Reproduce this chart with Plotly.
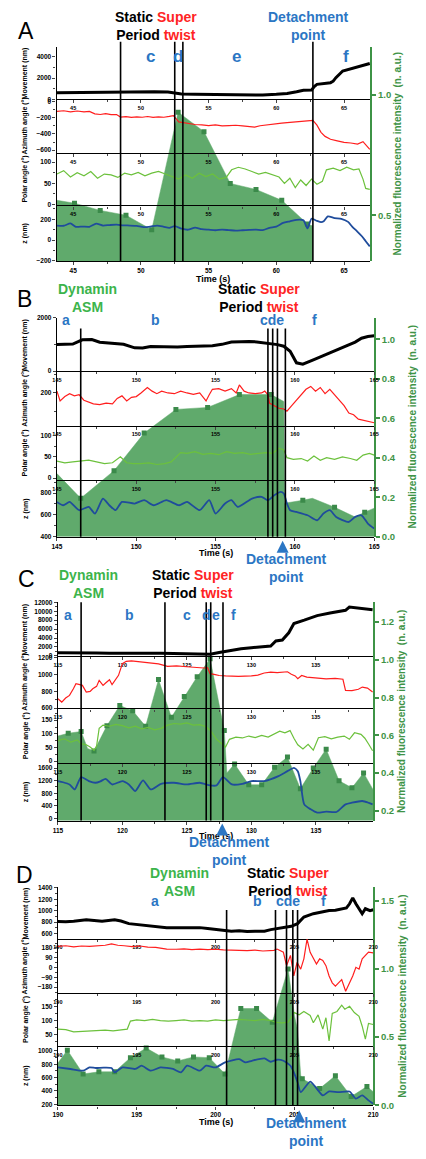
import plotly.graph_objects as go

W, H = 426, 1159


def px(x):
    return x / W


def py(y):
    return 1 - y / H


# ======================= DATA =======================
# ---- Panel A (time s, value) ----
A_movement = [(43.8, 620), (45, 640), (46, 660), (47, 630), (48, 640), (49, 640), (50, 660), (51, 700),
              (52, 680), (52.5, 560), (53, 500), (54, 470), (55, 450), (56, 420), (57, 390), (58, 390),
              (59, 400), (60, 460), (60.8, 540), (61.5, 700), (62.0, 850), (62.6, 860), (62.8, 1200),
              (63.0, 1400), (63.5, 1500), (64.0, 1560), (64.2, 1700), (64.4, 2030), (64.9, 2660),
              (65.4, 2820), (65.9, 2980), (66.3, 3140), (66.9, 3360)]
A_azimuth = [(43.8, -120), (44.3, -112), (44.8, -125), (45.3, -115), (45.8, -125), (46.2, -120), (46.6, -150),
             (47.0, -158), (47.4, -148), (47.8, -160), (48.2, -158), (48.5, -190), (48.9, -185), (49.3, -195),
             (49.7, -188), (50.1, -192), (50.5, -183), (50.9, -195), (51.3, -188), (51.7, -192), (52.1, -182),
             (52.4, -172), (52.8, -250), (53.2, -262), (53.6, -268), (54.0, -282), (54.5, -288), (55.0, -295),
             (55.5, -288), (56.0, -300), (56.5, -296), (57.0, -292), (57.5, -300), (58.0, -305), (58.4, -315),
             (58.8, -298), (59.2, -288), (59.6, -285), (60.0, -275), (60.4, -265), (60.8, -258), (61.2, -252),
             (61.6, -240), (62.0, -238), (62.4, -228), (62.7, -232), (63.0, -290), (63.3, -380), (63.6, -430),
             (64.0, -465), (64.5, -485), (65.0, -505), (65.5, -512), (66.0, -525), (66.4, -495), (66.6, -530),
             (66.9, -590)]
A_polar = [(43.8, 72), (44.3, 80), (44.8, 65), (45.3, 75), (45.8, 68), (46.3, 78), (46.8, 62), (47.3, 72),
           (47.8, 70), (48.3, 64), (48.8, 74), (49.3, 70), (49.8, 76), (50.3, 68), (50.8, 74), (51.3, 78),
           (51.8, 72), (52.3, 66), (52.8, 60), (53.3, 70), (53.8, 62), (54.3, 74), (54.8, 66), (55.3, 72),
           (55.8, 60), (56.3, 64), (56.7, 82), (57.2, 88), (57.7, 84), (58.2, 78), (58.7, 72), (59.2, 76),
           (59.7, 70), (60.2, 65), (60.6, 50), (61.0, 62), (61.4, 40), (61.8, 58), (62.2, 45), (62.6, 60),
           (63.0, 48), (63.4, 55), (63.7, 82), (64.2, 86), (64.7, 80), (65.2, 88), (65.7, 82), (66.1, 84),
           (66.4, 60), (66.6, 38), (66.9, 36)]
A_z = [(43.8, 140), (44.3, 138), (44.8, 160), (45.2, 128), (45.7, 130), (46.2, 128), (46.7, 158), (47.2, 140),
       (47.7, 145), (48.2, 148), (48.7, 142), (49.2, 140), (49.7, 136), (50.2, 125), (50.7, 130), (51.2, 140),
       (51.7, 128), (52.1, 118), (52.5, 135), (53.0, 110), (53.5, 100), (54.0, 120), (54.5, 105), (55.0, 100),
       (55.5, 95), (56.0, 100), (56.5, 96), (57.0, 92), (57.5, 95), (58.0, 98), (58.5, 100), (59.0, 96),
       (59.5, 118), (60.0, 130), (60.5, 165), (61.0, 180), (61.5, 195), (62.0, 190), (62.3, 112), (62.6, 205),
       (63.0, 185), (63.3, 172), (63.5, 180), (63.8, 228), (64.3, 212), (64.8, 205), (65.3, 175), (65.6, 130),
       (66.0, 80), (66.3, 40), (66.6, -10), (66.9, -60)]
A_fluor = [(43.8, 0.562), (45.1, 0.55), (47.0, 0.52), (48.9, 0.50), (50.8, 0.44), (52.75, 0.928),
           (54.66, 0.847), (56.6, 0.632), (58.5, 0.607), (60.4, 0.562), (62.3, 0.464), (62.7, 0.455)]
A_fluor_marks = [(45.1, 0.55), (47.0, 0.52), (48.9, 0.50), (50.8, 0.44), (52.75, 0.928), (54.66, 0.847),
                 (56.6, 0.632), (58.5, 0.607), (60.4, 0.562), (62.3, 0.464)]
A_events = [48.5, 52.5, 53.1, 62.7]

# ---- Panel B ----
B_movement = [(145, 990), (145.5, 1000), (146, 1010), (146.6, 1170), (147.2, 1180), (147.7, 1080), (148.5, 1050),
              (149.2, 1000), (149.9, 870), (150.4, 860), (150.9, 920), (151.5, 905), (152.0, 890), (152.6, 900),
              (153.2, 920), (154.0, 930), (154.8, 950), (155.4, 1000), (156.0, 1085), (156.6, 1100),
              (157.1, 1110), (157.6, 1090), (158.1, 1050), (158.6, 1020), (158.9, 990), (159.3, 930),
              (159.7, 740), (160.1, 310), (160.5, 260), (161.2, 430), (161.7, 560), (162.2, 680), (162.7, 800),
              (163.2, 940), (163.8, 1085), (164.2, 1230), (164.6, 1290), (165, 1320)]
B_azimuth = [(145, 205), (145.2, 178), (145.5, 190), (145.8, 198), (146.1, 192), (146.4, 195), (146.7, 180),
             (147.0, 176), (147.3, 170), (147.7, 168), (148.1, 172), (148.5, 170), (148.8, 185), (149.1, 192),
             (149.4, 178), (149.7, 188), (150.0, 190), (150.3, 200), (150.7, 215), (151.0, 205), (151.3, 198),
             (151.6, 205), (152.0, 200), (152.4, 198), (152.8, 205), (153.2, 200), (153.6, 196), (154.0, 200),
             (154.2, 188), (154.4, 178), (154.6, 195), (154.8, 210), (155.2, 212), (155.6, 205), (156.0, 212),
             (156.3, 200), (156.5, 222), (156.8, 205), (157.1, 200), (157.5, 198), (157.9, 200), (158.1, 205),
             (158.3, 195), (158.4, 172), (158.7, 165), (159.0, 158), (159.3, 156), (159.5, 150), (159.8, 165),
             (160.1, 180), (160.4, 195), (160.7, 210), (161.0, 218), (161.3, 205), (161.6, 215), (161.9, 198),
             (162.2, 210), (162.5, 195), (162.8, 180), (163.1, 165), (163.4, 145), (163.7, 140), (164.0, 128),
             (164.3, 125), (164.6, 120), (165, 118)]
B_polar = [(145, 40), (145.5, 36), (146, 38), (146.5, 40), (147, 42), (147.5, 38), (148, 34), (148.5, 36),
           (149, 50), (149.4, 36), (149.8, 34), (150.3, 34), (150.8, 36), (151.3, 32), (151.8, 34), (152.2, 38),
           (152.6, 52), (152.8, 60), (153.2, 58), (153.7, 62), (154.2, 56), (154.7, 58), (155.2, 55), (155.7, 62),
           (156.2, 58), (156.7, 60), (157.2, 56), (157.7, 58), (158.2, 60), (158.6, 58), (159.0, 70), (159.3, 66),
           (159.5, 48), (159.9, 44), (160.4, 46), (160.8, 40), (161.2, 52), (161.6, 42), (162.0, 48), (162.5, 44),
           (163.0, 50), (163.5, 46), (163.9, 42), (164.3, 54), (164.7, 58), (165, 54)]
B_z = [(145, 719), (145.4, 688), (145.8, 719), (146.4, 642), (147.0, 673), (147.4, 611), (147.9, 750), (148.3, 688),
       (148.7, 642), (149.1, 719), (149.9, 704), (150.5, 735), (151.1, 688), (151.9, 735), (152.7, 688),
       (153.2, 719), (154.0, 642), (154.6, 735), (155.0, 611), (155.6, 704), (156.0, 735), (156.4, 673),
       (157.3, 750), (157.9, 766), (158.3, 735), (158.7, 781), (159.1, 812), (159.3, 797), (159.5, 704),
       (159.7, 642), (160.1, 626), (160.8, 595), (161.4, 549), (161.8, 611), (162.2, 642), (162.6, 580),
       (163.4, 533), (163.8, 580), (164.2, 595), (164.6, 518), (165, 472)]
B_fluor = [(145, 0.32), (146.5, 0.195), (148.6, 0.335), (150.5, 0.525), (152.5, 0.645), (154.5, 0.655),
           (156.5, 0.72), (158.5, 0.72), (159.3, 0.685), (159.35, 0.17), (160.5, 0.185), (161.1, 0.195),
           (162.5, 0.15), (163.8, 0.10), (164.4, 0.125), (165, 0.145)]
B_fluor_marks = [(146.5, 0.195), (148.6, 0.335), (150.5, 0.525), (152.5, 0.645), (154.5, 0.655), (156.5, 0.72),
                 (158.5, 0.72), (160.5, 0.185), (162.5, 0.15), (164.4, 0.125)]
B_events = [146.5, 158.3, 158.6, 158.9, 159.4]

# ---- Panel C ----
C_movement = [(115, 700), (116, 720), (117, 680), (118, 650), (119, 600), (120, 620), (121, 750), (122, 620),
              (123, 580), (124, 560), (125, 550), (126, 540), (126.8, 370), (127.5, 740), (128, 1000),
              (128.5, 1330), (129.2, 1600), (130, 1850), (131, 2000), (131.5, 2220), (131.9, 3330),
              (132.4, 3550), (132.9, 5180), (133.3, 7250), (134.1, 8000), (135.1, 9030), (136.1, 9620),
              (137.3, 10210), (137.6, 10950), (138.0, 10800), (138.6, 10500), (139.4, 10360)]
C_azimuth = [(115, 712), (115.3, 672), (115.6, 720), (115.9, 752), (116.2, 832), (116.4, 892), (116.7, 880),
             (116.9, 872), (117.2, 792), (117.5, 800), (117.7, 832), (118.0, 860), (118.2, 932), (118.5, 872),
             (118.7, 900), (119.0, 940), (119.2, 880), (119.5, 952), (119.7, 992), (120.0, 1132), (120.3, 1160),
             (120.7, 1165), (121.0, 1160), (121.5, 1150), (122.2, 1135), (122.8, 1130), (123.5, 1100),
             (124.2, 1105), (125.0, 1095), (125.6, 1085), (126.3, 1080), (126.6, 1085), (126.8, 1012),
             (127.2, 1000), (127.5, 990), (128.0, 985), (129, 980), (130, 985), (130.5, 995), (131.0, 1020),
             (131.5, 1030), (132, 1025), (132.8, 1035), (133.1, 1005), (133.4, 985), (133.6, 952), (133.9, 990),
             (134.3, 970), (135.1, 955), (135.8, 950), (136.5, 955), (137.1, 945), (137.3, 812), (137.8, 810),
             (138.3, 825), (138.6, 852), (139, 840), (139.4, 792)]
C_polar = [(115, 75), (115.5, 82), (116, 70), (116.5, 78), (116.8, 64), (117.2, 60), (117.5, 52), (117.8, 40),
           (118.0, 55), (118.2, 120), (118.5, 132), (119.0, 128), (119.5, 135), (120.0, 130), (120.5, 122),
           (121.0, 128), (121.5, 118), (122.0, 124), (122.5, 115), (123.0, 120), (123.5, 132), (124.0, 138),
           (124.5, 136), (125.0, 140), (125.5, 132), (126.0, 134), (126.5, 126), (126.9, 108), (127.3, 80),
           (127.7, 62), (128.0, 52), (128.3, 80), (128.8, 88), (129.3, 85), (129.8, 92), (130.3, 86), (130.8, 94),
           (131.3, 88), (131.8, 100), (132.2, 110), (132.6, 104), (133.0, 112), (133.3, 84), (133.6, 60),
           (134.0, 45), (134.4, 62), (134.8, 40), (135.2, 86), (135.7, 90), (136.2, 82), (136.7, 88), (137.2, 92),
           (137.6, 80), (138.0, 104), (138.5, 98), (138.8, 84), (139.1, 62), (139.4, 38)]
C_z = [(115, 1187), (115.4, 1150), (115.9, 1080), (116.3, 923), (116.8, 1313), (117.4, 1187), (117.9, 1134),
       (118.3, 1180), (118.7, 1260), (119.2, 1080), (120.0, 1187), (120.5, 1080), (121.0, 872), (121.6, 1208),
       (122.2, 923), (123.0, 1100), (124.0, 1134), (125.0, 1080), (126.0, 1134), (126.8, 1050), (127.3, 1050),
       (127.8, 1313), (128.5, 1080), (129.3, 1100), (130.0, 1187), (131.0, 1187), (132.1, 1345), (132.8, 1502),
       (133.3, 1607), (133.6, 1500), (133.8, 1187), (134.1, 451), (134.6, 293), (135.1, 189), (135.8, 220),
       (136.6, 210), (137.3, 451), (137.8, 504), (138.6, 557), (139.1, 500), (139.4, 451)]
C_fluor = [(115, 0.596), (115.8, 0.61), (116.8, 0.62), (117.3, 0.53), (117.8, 0.516), (118.8, 0.65),
           (119.8, 0.757), (120.8, 0.73), (121.8, 0.647), (122.8, 0.895), (123.8, 0.695), (124.8, 0.805),
           (125.8, 0.91), (126.8, 1.005), (127.9, 0.625), (128.1, 0.40), (128.7, 0.447), (129.8, 0.337),
           (130.8, 0.337), (131.8, 0.43), (132.8, 0.484), (133.8, 0.316), (134.8, 0.426), (135.8, 0.526),
           (136.8, 0.358), (137.8, 0.321), (138.7, 0.40), (139.45, 0.31)]
C_fluor_marks = [(115.8, 0.61), (116.8, 0.62), (117.8, 0.516), (118.8, 0.65), (119.8, 0.757), (120.8, 0.73),
                 (121.8, 0.647), (122.8, 0.895), (123.8, 0.695), (124.8, 0.805), (125.8, 0.91), (126.8, 1.005),
                 (127.9, 0.625), (128.7, 0.447), (129.8, 0.337), (130.8, 0.337), (131.8, 0.43), (132.8, 0.484),
                 (133.8, 0.316), (134.8, 0.426), (135.8, 0.526), (136.8, 0.358), (137.8, 0.321), (138.7, 0.40)]
C_events = [116.8, 123.3, 126.5, 126.85, 127.8]

# ---- Panel D ----
D_movement = [(190, 810), (190.5, 805), (191, 815), (191.8, 843), (192.3, 830), (192.8, 814), (193.6, 843),
              (194.0, 820), (194.5, 774), (195.2, 750), (195.9, 727), (196.4, 720), (196.9, 704), (197.5, 700),
              (198.2, 706), (199.0, 704), (199.5, 690), (200.0, 669), (200.5, 655), (201.0, 640), (201.5, 650),
              (202.0, 635), (202.5, 640), (203.1, 640), (203.5, 669), (204.0, 690), (204.3, 704), (204.8, 727),
              (205.2, 774), (205.6, 890), (206.2, 948), (206.7, 980), (207.2, 1006), (207.6, 1010), (208.0, 1035),
              (208.3, 1050), (208.5, 1122), (208.7, 1226), (208.9, 1122), (209.1, 1035), (209.3, 948),
              (209.5, 1035), (209.8, 1000), (210, 1017)]
D_azimuth = [(190, 195), (190.5, 200), (191, 190), (191.5, 198), (192, 195), (192.5, 200), (193, 205), (193.4, 218),
             (193.8, 205), (194.2, 200), (194.7, 192), (195.2, 198), (195.7, 188), (196.2, 185), (196.9, 170),
             (197.5, 168), (198, 172), (198.5, 165), (199, 170), (199.5, 165), (200, 168), (200.5, 162),
             (201, 158), (201.5, 160), (202, 155), (202.5, 160), (203, 152), (203.7, 158), (203.9, 170),
             (204.3, 142), (204.5, 17), (204.75, 111), (204.96, -77), (205.17, 48), (205.4, -15), (205.6, 80),
             (205.8, 260), (206.0, 140), (206.2, 80), (206.4, 33), (206.6, 80), (206.8, 65), (207.0, 17),
             (207.2, -77), (207.4, -140), (207.6, -170), (207.8, -140), (208.0, -110), (208.25, -217),
             (208.5, -140), (208.7, -77), (208.9, 2), (209.1, -15), (209.3, 80), (209.5, 111), (209.7, 142),
             (210, 135)]
D_polar = [(190, 70), (190.5, 68), (191, 60), (191.5, 62), (192, 62), (192.5, 64), (193, 66), (193.5, 64),
           (194, 68), (194.4, 70), (194.6, 98), (195, 102), (195.5, 100), (196, 104), (196.5, 100), (197, 98),
           (197.5, 100), (198, 102), (198.5, 98), (199, 100), (199.5, 98), (200, 102), (200.5, 100), (201, 102),
           (201.5, 104), (202, 102), (202.5, 100), (203, 104), (203.5, 100), (203.8, 94), (204.2, 92),
           (204.6, 94), (205.0, 128), (205.3, 120), (205.6, 132), (206.0, 118), (206.2, 92), (206.5, 120),
           (206.8, 70), (207.0, 110), (207.2, 28), (207.4, 125), (207.7, 132), (208.0, 154), (208.2, 140),
           (208.5, 150), (208.8, 128), (209.1, 115), (209.3, 80), (209.5, 35), (209.7, 90), (210, 86)]
D_z = [(190, 753), (190.8, 729), (191.6, 704), (192.0, 753), (192.4, 744), (192.9, 750), (193.4, 744), (193.6, 679),
       (194.1, 753), (194.9, 729), (195.3, 778), (195.9, 704), (196.5, 753), (197.3, 729), (197.8, 679),
       (198.2, 778), (199.0, 704), (199.4, 778), (200.0, 753), (200.6, 827), (201.5, 877), (201.9, 827),
       (202.3, 852), (203.1, 887), (203.5, 837), (203.9, 867), (204.3, 852), (204.75, 778), (204.96, 679),
       (205.2, 531), (205.4, 383), (206.0, 541), (206.4, 440), (206.8, 334), (207.2, 393), (207.8, 383),
       (208.5, 393), (208.9, 285), (209.3, 334), (209.7, 260), (210, 211)]
D_fluor = [(190, 0.31), (190.6, 0.405), (191.6, 0.23), (192.6, 0.246), (193.6, 0.246), (194.6, 0.35),
           (195.6, 0.42), (196.6, 0.355), (197.6, 0.326), (198.6, 0.355), (199.6, 0.35), (200.6, 0.23),
           (201.6, 0.71), (202.6, 0.71), (203.6, 0.61), (204.6, 1.0), (205.0, 0.66), (205.2, 0.55),
           (205.4, 0.22), (205.5, 0.196), (206.6, 0.123), (207.6, 0.217), (208.6, 0.065), (209.6, 0.138),
           (210, 0.10)]
D_fluor_marks = [(190.6, 0.405), (191.6, 0.23), (192.6, 0.246), (193.6, 0.246), (194.6, 0.35), (195.6, 0.42),
                 (196.6, 0.355), (197.6, 0.326), (198.6, 0.355), (199.6, 0.35), (200.6, 0.23), (201.6, 0.71),
                 (202.6, 0.71), (203.6, 0.61), (204.6, 1.0), (205.5, 0.196), (206.6, 0.123), (207.6, 0.217),
                 (208.6, 0.065), (209.6, 0.138)]
D_events = [200.7, 203.8, 204.5, 204.9, 205.2]

ROW_TITLES = ["Movement (nm)", "Azimuth angle (°)", "Polar angle (°)", "z (nm)"]
FLUOR_TITLE = "Normalized fluorescence intensity  (n. a.u.)"

# ======================= STYLE / LAYOUT =======================
FONT = "Liberation Sans"
FILL = "#60aa6c"
MARK = "#3b8a4a"
GAX = "#3e9346"
BLUE_T = "#2b76c4"
GREEN_T = "#3cb44b"
RED_T = "#ff2424"
LINE_STYLES = [dict(color="black", width=3.0), dict(color="#ff1e1e", width=1.2),
               dict(color="#6cc13c", width=1.2), dict(color="#1f4c9c", width=1.8, shape="spline", smoothing=0.6)]

panels = [
    dict(letter="A", data=(A_movement, A_azimuth, A_polar, A_z), fluor=A_fluor, marks=A_fluor_marks,
         events=A_events, x0=53, x1=375, rows=[43, 96, 150, 203, 259], xr=[43.78, 66.94],
         yr=[[0, 4950], [-634, 31], [-2, 122], [-200, 333]], ydt=[2000, 200, 50, 200],
         gr=[0.31, 1.2], gdt=0.5, ev_top=38, gtx=403),
    dict(letter="B", data=(B_movement, B_azimuth, B_polar, B_z), fluor=B_fluor, marks=B_fluor_marks,
         events=B_events, x0=53.3, x1=379, rows=[316, 370, 425, 480, 537], xr=[145, 165],
         yr=[[0, 2000], [110, 260], [-5, 123], [395, 920]], ydt=[2000, 100, 50, 200],
         gr=[0, 1.11], gdt=0.2, ev_top=327, gtx=418),
    dict(letter="C", data=(C_movement, C_azimuth, C_polar, C_z), fluor=C_fluor, marks=C_fluor_marks,
         events=C_events, x0=54.3, x1=378, rows=[603, 657, 710, 765, 823], xr=[115, 139.45],
         yr=[[0, 12000], [595, 1225], [-7, 193], [-63, 1757]], ydt=[2000, 200, 50, 400],
         gr=[0.147, 1.305], gdt=0.2, ev_top=603, gtx=407),
    dict(letter="D", data=(D_movement, D_azimuth, D_polar, D_z), fluor=D_fluor, marks=D_fluor_marks,
         events=D_events, x0=54.3, x1=378, rows=[890, 942, 997, 1050, 1110], xr=[190, 210],
         yr=[[510, 1415], [-236, 265], [11, 196], [185, 1075]], ydt=[200, 90, 50, 200],
         gr=[0, 1.6], gdt=0.5, ev_top=913, gtx=408),
]


def ax_id(prefix, n):
    return prefix if n == 1 else f"{prefix}{n}"


def ax_key(prefix, n):
    return f"{prefix}axis" if n == 1 else f"{prefix}axis{n}"


fig = go.Figure()
layout = {}
shapes = []
annotations = []

for i, p in enumerate(panels):
    n = i + 1
    fx, fy = ax_id("x", n), ax_id("y", n)
    rows = p["rows"]
    ft, fv = zip(*p["fluor"])
    fig.add_trace(go.Scatter(x=ft, y=fv, xaxis=fx, yaxis=fy, mode="lines", fill="tozeroy",
                             fillcolor=FILL, line=dict(color=FILL, width=0.5), hoverinfo="skip",
                             showlegend=False))
    mt, mv = zip(*p["marks"])
    fig.add_trace(go.Scatter(x=mt, y=mv, xaxis=fx, yaxis=fy, mode="markers",
                             marker=dict(symbol="square", size=5, color=MARK), hoverinfo="skip",
                             showlegend=False))
    layout[ax_key("x", n)] = dict(domain=[px(p["x0"]), px(p["x1"])], range=p["xr"], visible=False,
                                  anchor=fy, fixedrange=True)
    layout[ax_key("y", n)] = dict(domain=[py(rows[-1]), py(rows[0])], range=p["gr"], side="right", anchor=fx,
                                  showline=True, linecolor=GAX, linewidth=1.5, ticks="outside", ticklen=4,
                                  tickcolor=GAX, tickwidth=1.5, dtick=p["gdt"], tick0=0, tickformat=".1f",
                                  tickfont=dict(size=9.5, color=GAX, family=FONT, weight="bold"),
                                  showgrid=False, zeroline=False, fixedrange=True)
    for r in range(4):
        k = 5 + 4 * i + r
        xa, ya = f"x{k}", f"y{k}"
        t, v = zip(*p["data"][r])
        fig.add_trace(go.Scatter(x=t, y=v, xaxis=xa, yaxis=ya, mode="lines", line=LINE_STYLES[r],
                                 hoverinfo="skip", showlegend=False))
        layout[f"xaxis{k}"] = dict(domain=[px(p["x0"]), px(p["x1"])], range=p["xr"], anchor=ya,
                                   showline=True, linecolor="black", linewidth=1.3, ticks="outside",
                                   ticklen=3, tickwidth=1, dtick=5, tick0=0,
                                   minor=dict(dtick=2.5, ticklen=2, ticks="outside"),
                                   tickfont=dict(size=5.5 if r < 3 else 6.5, family=FONT, weight="bold",
                                                 color="black"),
                                   showgrid=False, zeroline=False, fixedrange=True)
        layout[f"yaxis{k}"] = dict(domain=[py(rows[r + 1]), py(rows[r])], range=p["yr"][r], anchor=xa,
                                   showline=True, linecolor="black", linewidth=1.3, ticks="outside",
                                   ticklen=3, dtick=p["ydt"][r], tick0=0, tickformat="d",
                                   minor=dict(dtick=p["ydt"][r] / 2, ticklen=2, ticks="outside"),
                                   tickfont=dict(size=6.5, family=FONT, weight="bold", color="black"),
                                   showgrid=False, zeroline=False, fixedrange=True)
        annotations.append(dict(text=ROW_TITLES[r], x=px(21), y=py((rows[r] + rows[r + 1]) / 2),
                                xref="paper", yref="paper", textangle=-90, showarrow=False,
                                font=dict(size=7, family=FONT, weight="bold", color="black"),
                                xanchor="center", yanchor="middle"))
    for t in p["events"]:
        shapes.append(dict(type="line", xref=fx, yref="paper", x0=t, x1=t, y0=py(p["ev_top"]),
                           y1=py(rows[-1]), line=dict(color="black", width=1.6), layer="above"))
    annotations.append(dict(text=FLUOR_TITLE, x=px(p["gtx"]), y=py((rows[0] + rows[-1]) / 2), xref="paper",
                            yref="paper", textangle=-90, showarrow=False,
                            font=dict(size=10, family=FONT, weight="bold", color=GAX),
                            xanchor="center", yanchor="middle"))


def txt(text, x, y, size, color, bold=True, **kw):
    d = dict(text=text, x=px(x), y=py(y), xref="paper", yref="paper", showarrow=False,
             font=dict(size=size, family=FONT, color=color, weight="bold" if bold else "normal"),
             xanchor="center", yanchor="middle", align="center")
    d.update(kw)
    annotations.append(d)


def arrow(x, y, tail):
    annotations.append(dict(text="", x=px(x), y=py(y), xref="paper", yref="paper", showarrow=True,
                            ax=0, ay=tail, arrowhead=2, arrowsize=0.8, arrowwidth=3, arrowcolor=BLUE_T))


SS = f"Static <span style='color:{RED_T}'>Super</span><br>Period <span style='color:{RED_T}'>twist</span>"
DET = "Detachment<br>point"
DYN = "Dynamin<br>ASM"

# Panel letters
for L, x, y in [("A", 22, 27), ("B", 20, 297), ("C", 22, 580), ("D", 20, 878)]:
    txt(L, x, y, 23, "black", bold=False)

# Panel A
txt(SS, 155, 22, 14, "black")
txt(DET, 311, 22, 14, BLUE_T)
for s, x in [("c", 149), ("d", 178), ("e", 238), ("f", 350)]:
    txt(s, x, 53, 17, BLUE_T)
txt("Time (s)", 213, 277, 9, "black")

# Panel B
txt(DYN, 85, 296, 14, GREEN_T)
txt(SS, 261, 296, 14, "black")
for s, x in [("a", 63), ("b", 155), ("cde", 274), ("f", 318)]:
    txt(s, x, 318, 14, BLUE_T)
txt("Time (s)", 217, 553, 9, "black")
txt(DET, 288, 568, 14, BLUE_T)
arrow(285, 541, 11)

# Panel C
txt(DYN, 86, 585, 14, GREEN_T)
txt(SS, 193, 585, 14, "black")
for s, x in [("a", 65), ("b", 128), ("c", 187), ("d", 207), ("e", 217), ("f", 235)]:
    txt(s, x, 616, 14, BLUE_T)
txt("Time (s)", 217, 839, 9, "black")
txt(DET, 230, 854, 14, BLUE_T)
arrow(223, 826, 11)

# Panel D
txt(DYN, 179, 885, 14, GREEN_T)
txt(SS, 290, 885, 14, "black")
for s, x in [("a", 154), ("b", 259), ("cde", 291), ("f", 327)]:
    txt(s, x, 904, 14, BLUE_T)
txt("Time (s)", 217, 1127, 9, "black")
txt(DET, 309, 1137, 14, BLUE_T)
arrow(302, 1115, 10)

fig.update_layout(**layout)
fig.update_layout(width=W, height=H, margin=dict(l=0, r=0, t=0, b=0), paper_bgcolor="white",
                  plot_bgcolor="rgba(0,0,0,0)", showlegend=False, shapes=shapes, annotations=annotations,
                  font=dict(family=FONT))

fig.write_html("out.html", config={"displayModeBar": False, "responsive": False})
